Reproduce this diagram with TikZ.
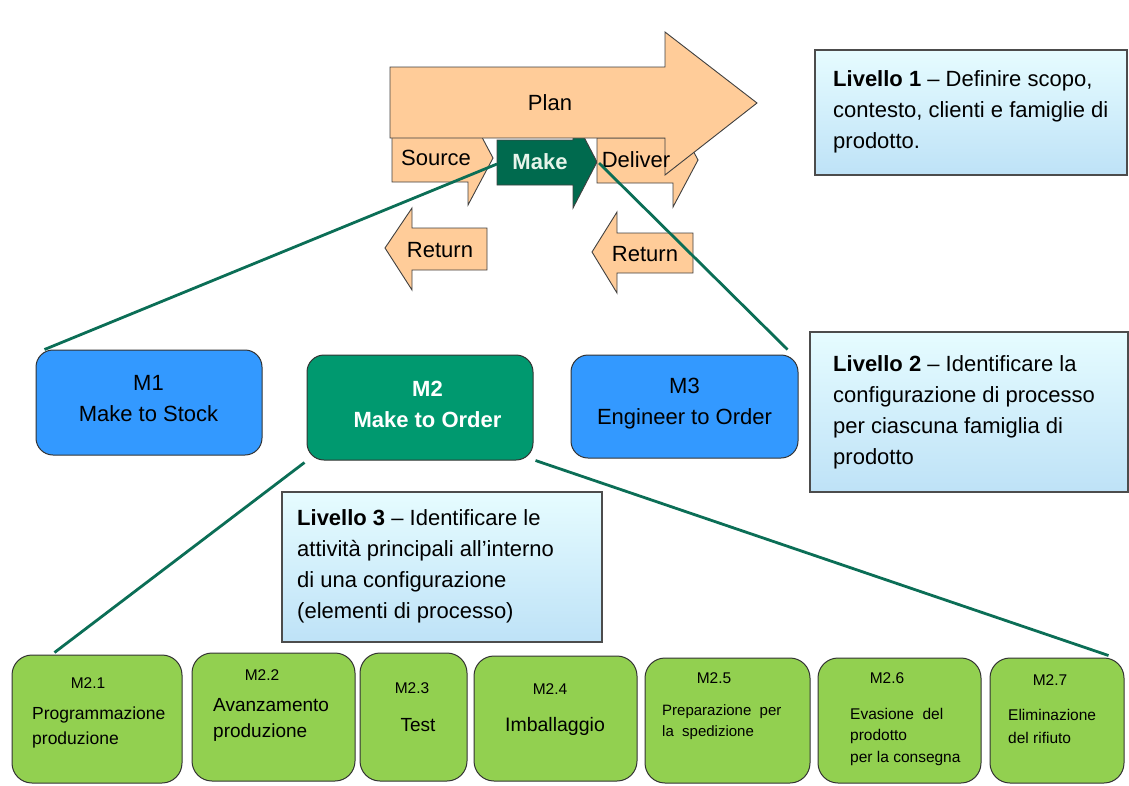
\documentclass[tikz,border=0pt]{standalone}
\usepackage{fontspec}
\setmainfont{Liberation Sans}
\usetikzlibrary{calc}
\definecolor{peach}{HTML}{FFCC99}
\definecolor{makefill}{HTML}{006A4E}
\definecolor{linkcol}{HTML}{0B6E56}
\definecolor{mtwofill}{HTML}{00996F}
\definecolor{mblue}{HTML}{3399FF}
\definecolor{leaf}{HTML}{92D050}
\definecolor{infotop}{HTML}{E6FCFF}
\definecolor{infobot}{HTML}{BEE2F7}
\definecolor{maketext}{HTML}{E6F4EA}

\begin{document}
\begin{tikzpicture}[x=1pt,y=-1pt,
  flow/.style={fill=peach,draw=black!75,line width=0.9pt,line join=miter},
  big/.style={font=\fontsize{22}{31}\selectfont,inner sep=0pt},
  mbox/.style={draw=black!80,line width=1pt,rounded corners=17pt,inner sep=0pt},
  leafbox/.style={draw=black!80,fill=leaf,line width=1pt,rounded corners=20pt,inner sep=0pt},
  info/.style={draw=black!70,line width=1.2pt,top color=infotop,bottom color=infobot,inner sep=0pt},
  infotext/.style={big,anchor=west,align=left},
  code/.style={font=\fontsize{15.5}{18}\selectfont,inner sep=0pt},
  desc/.style={anchor=west,align=left,inner sep=0pt},
  link/.style={draw=linkcol,line width=2.8pt}
]
\useasboundingbox (0,0) rectangle (1129,785);

% Source / Make / Deliver chevrons (partly hidden under Plan)
\path[flow] (392,134) -- (468,134) -- (468,111) -- (493,158) -- (468,205) -- (468,182) -- (392,182) -- cycle;
\path[flow,fill=makefill] (497,140) -- (573,140) -- (573,116) -- (597,162) -- (573,208) -- (573,185) -- (497,185) -- cycle;
\path[flow] (597,138) -- (673,138) -- (673,113) -- (698,160) -- (673,207) -- (673,183) -- (597,183) -- cycle;

% Plan arrow
\path[flow] (390,67) -- (665,67) -- (665,32) -- (757,103) -- (665,175) -- (665,138) -- (390,138) -- cycle;

% Return arrows
\path[flow] (385,248) -- (412,208) -- (412,228) -- (487,228) -- (487,270) -- (412,270) -- (412,290) -- cycle;
\path[flow] (592,252) -- (617,212) -- (617,233) -- (693,233) -- (693,273) -- (617,273) -- (617,293) -- cycle;

% Labels of the flow
\node[big] (plan) at (550,103) {Plan};
\node[big] (src) at (436,158) {Source};
\node[big,text=maketext] (mk) at (540,162) {\textbf{Make}};
\node[big] (dlv) at (636,160) {Deliver};
\node[big] (ret1) at (440,250) {Return};
\node[big] (ret2) at (645,254) {Return};

% Level descriptions
\node[info,minimum width=312pt,minimum height=125pt] (lv1) at (971,112.5) {};
\node[infotext] (lv1t) at (833,112) {\textbf{Livello 1} – Definire scopo,\\contesto, clienti e famiglie di\\prodotto.};
\node[info,minimum width=318pt,minimum height=160pt] (lv2) at (969,412) {};
\node[infotext] (lv2t) at (833,412.5) {\textbf{Livello 2} – Identificare la\\configurazione di processo\\per ciascuna famiglia di\\prodotto};
\node[info,minimum width=320pt,minimum height=150pt] (lv3) at (442,567) {};
\node[infotext] (lv3t) at (297,566.5) {\textbf{Livello 3} – Identificare le\\attività principali all’interno\\di una configurazione\\(elementi di processo)};

% Process configurations
\node[mbox,fill=mblue,minimum width=226pt,minimum height=105pt] (m1) at (149,402.5) {};
\node[big,align=center] (m1t) at (148.5,399) {M1\\Make to Stock};
\node[mbox,fill=mtwofill,minimum width=226pt,minimum height=105pt] (m2) at (420,407.5) {};
\node[big,align=center,text=white,font=\fontsize{22}{31}\selectfont\bfseries] (m2t) at (427.5,404) {M2\\Make to Order};
\node[mbox,fill=mblue,minimum width=227pt,minimum height=103pt] (m3) at (684.5,406.5) {};
\node[big,align=center] (m3t) at (684.5,404) {M3\\Engineer to Order};

% Process elements
\node[leafbox,minimum width=170pt,minimum height=128pt] (e1) at (97,719) {};
\node[leafbox,minimum width=163pt,minimum height=128pt] (e2) at (273.5,717) {};
\node[leafbox,minimum width=107pt,minimum height=128pt] (e3) at (413.5,717) {};
\node[leafbox,minimum width=163pt,minimum height=125pt] (e4) at (555.5,718.5) {};
\node[leafbox,minimum width=165pt,minimum height=125pt] (e5) at (727.5,720.5) {};
\node[leafbox,minimum width=163pt,minimum height=125pt] (e6) at (899.5,720.5) {};
\node[leafbox,minimum width=134pt,minimum height=125pt] (e7) at (1057,720.5) {};

\node[code] (e1c) at (88,683) {M2.1};
\node[desc,font=\fontsize{17.5}{25}\selectfont] (e1d) at (32,727.5) {Programmazione\\produzione};
\node[code] (e2c) at (262,675) {M2.2};
\node[desc,font=\fontsize{19}{26}\selectfont] (e2d) at (213,720) {Avanzamento\\produzione};
\node[code] (e3c) at (412,688) {M2.3};
\node[font=\fontsize{19}{24}\selectfont,inner sep=0pt] (e3d) at (418,725) {Test};
\node[code] (e4c) at (550,689) {M2.4};
\node[font=\fontsize{19.5}{24}\selectfont,inner sep=0pt] (e4d) at (555,726) {Imballaggio};
\node[code] (e5c) at (714,678) {M2.5};
\node[desc,font=\fontsize{15}{21}\selectfont] (e5d) at (662,722.5) {Preparazione\ \ per\\la\ \ spedizione};
\node[code] (e6c) at (887,678) {M2.6};
\node[desc,font=\fontsize{15.5}{21.5}\selectfont] (e6d) at (850,736.5) {Evasione\ \ del\\prodotto\\per la consegna};
\node[code] (e7c) at (1050,680) {M2.7};
\node[desc,font=\fontsize{15.5}{23}\selectfont] (e7d) at (1008,726.5) {Eliminazione\\del rifiuto};

% Drill-down connectors
\coordinate (mkin) at (497,164);
\coordinate (mkout) at (599,163);
\draw[link] (mkin) -- ([xshift=9pt]m1.north west);
\draw[link] (mkout) -- ([xshift=-11pt,yshift=5pt]m3.north east);
\draw[link] ([xshift=-2pt,yshift=-2pt]m2.south west) -- ([xshift=43pt,yshift=2pt]e1.north west);
\draw[link] ([xshift=2pt]m2.south east) -- ([xshift=-16pt,yshift=2pt]e7.north east);
\end{tikzpicture}
\end{document}
